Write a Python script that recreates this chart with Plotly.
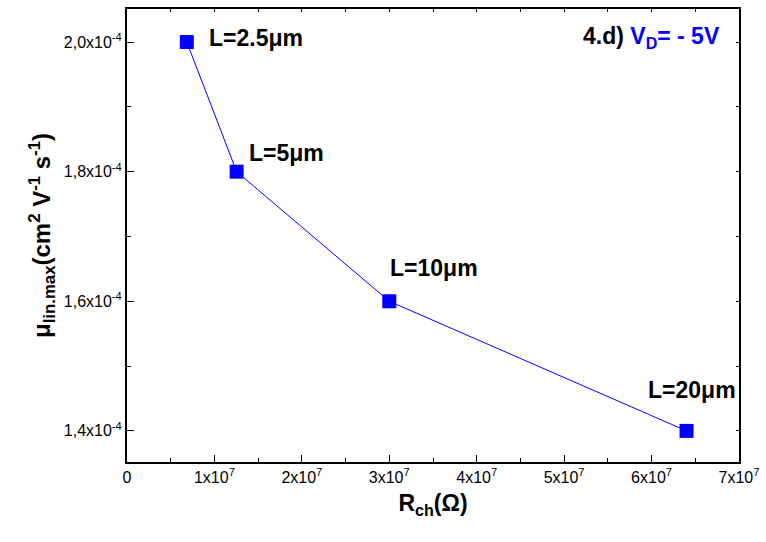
import plotly.graph_objects as go

r_ch = [0.684e7, 1.254e7, 3.0e7, 6.40e7]
mu = [2.0e-4, 1.8e-4, 1.6e-4, 1.4e-4]
labels = ["L=2.5μm", "L=5μm", "L=10μm", "L=20μm"]
label_shift = [(20, 4), (10, 19), (-1, 33), (-41, 41)]

x_tickvals = [0, 1e7, 2e7, 3e7, 4e7, 5e7, 6e7, 7e7]
x_ticktext = ["0"] + [f"{i}x10<sup>7</sup>" for i in range(1, 8)]
y_tickvals = [1.4e-4, 1.6e-4, 1.8e-4, 2.0e-4]
y_ticktext = ["1,4x10<sup>-4</sup>", "1,6x10<sup>-4</sup>", "1,8x10<sup>-4</sup>", "2,0x10<sup>-4</sup>"]

FONT = "Liberation Sans, Arial, sans-serif"
xr = [0, 7e7]
yr = [1.352e-4, 2.051e-4]

fig = go.Figure()
fig.add_trace(go.Scatter(x=r_ch, y=mu, mode="lines+markers",
                         line=dict(color="#0000ff", width=1),
                         marker=dict(symbol="square", size=14, color="#0000ff"),
                         showlegend=False))
# invisible trace for mirror axes
fig.add_trace(go.Scatter(x=[None], y=[None], xaxis="x2", yaxis="y2", showlegend=False))

for xv, yv, t, (dx, dy) in zip(r_ch, mu, labels, label_shift):
    fig.add_annotation(x=xv, y=yv, text=f"<b>{t}</b>", showarrow=False,
                       xanchor="left", yanchor="middle", xshift=dx, yshift=dy,
                       font=dict(family=FONT, size=23, color="black"))

fig.add_annotation(xref="paper", yref="paper", x=(724 - 127) / (741 - 127), y=(462 - 36) / (462 - 7),
                   xanchor="right", yanchor="middle", showarrow=False,
                   text="<b>4.d)</b> <b><span style='color:#0000ff'>V<sub>D</sub>= - 5V</span></b>",
                   font=dict(family=FONT, size=23, color="black"))

fig.update_layout(
    width=766, height=542,
    margin=dict(l=127, r=25, t=7, b=80),
    paper_bgcolor="white", plot_bgcolor="white",
    font=dict(family=FONT, size=16, color="black"),
    xaxis=dict(range=xr, tickvals=x_tickvals, ticktext=x_ticktext,
               ticks="inside", ticklen=7, tickwidth=1, tickcolor="black",
               minor=dict(dtick=0.5e7, tick0=0, ticks="inside", ticklen=4, tickcolor="black"),
               showline=True, linecolor="black", linewidth=2, mirror=True,
               showgrid=False, zeroline=False,
               tickfont=dict(family=FONT, size=16),
               title=dict(text="<b>R<sub>ch</sub>(Ω)</b>", font=dict(family=FONT, size=23), standoff=10)),
    yaxis=dict(range=yr, tickvals=y_tickvals, ticktext=y_ticktext,
               ticks="inside", ticklen=7, tickwidth=1, tickcolor="black",
               minor=dict(dtick=0.1e-4, tick0=1.4e-4, ticks="inside", ticklen=4, tickcolor="black"),
               showline=True, linecolor="black", linewidth=2, mirror=True,
               showgrid=False, zeroline=False,
               tickfont=dict(family=FONT, size=16),
               title=dict(text="<b>μ<sub>lin.max</sub>(cm<sup>2</sup> V<sup>-1</sup> s<sup>-1</sup>)</b>",
                          font=dict(family=FONT, size=24), standoff=6)),
    xaxis2=dict(range=xr, overlaying="x", side="top",
                tickvals=x_tickvals, showticklabels=False, ticks="inside", ticklen=3,
                tickcolor="black", showgrid=False, zeroline=False, showline=False,
                minor=dict(dtick=0.5e7, tick0=0, ticks="inside", ticklen=3, tickcolor="black")),
    yaxis2=dict(range=yr, overlaying="y", side="right",
                tickvals=y_tickvals, showticklabels=False, ticks="inside", ticklen=3,
                tickcolor="black", showgrid=False, zeroline=False, showline=False,
                minor=dict(dtick=0.1e-4, tick0=1.4e-4, ticks="inside", ticklen=3, tickcolor="black")),
)

fig.write_html("out.html")
